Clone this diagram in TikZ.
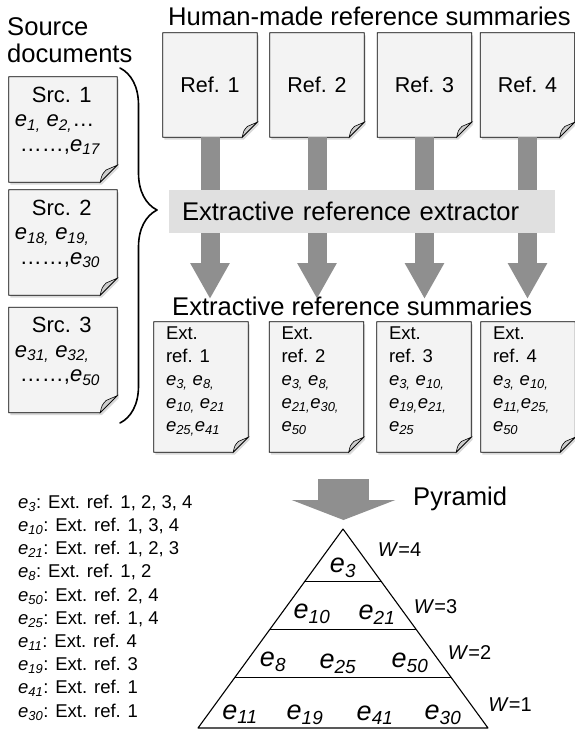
\documentclass[tikz,border=0pt]{standalone}
\usepackage{fontspec}
\setmainfont{Liberation Sans}
\usetikzlibrary{arrows.meta,calc,shadows,backgrounds,decorations.pathreplacing}

\definecolor{pagegray}{RGB}{243,243,243}
\definecolor{foldgray}{RGB}{205,205,205}
\definecolor{arrowgray}{RGB}{143,143,143}
\definecolor{bandgray}{RGB}{224,224,224}

\newcommand\ent[1]{\textit{e}\textsubscript{\textit{#1}}}
% hoja con esquina doblada, sobre un nodo marco
\newcommand\notepage[2]{%
  \path[pagebox] (#1.north west) -- (#1.north east) -- ([yshift=#2pt]#1.south east)
    -- ([xshift=-#2pt]#1.south east) -- (#1.south west) -- cycle;
  \draw[pagefold] ([yshift=#2pt]#1.south east)
    -- ([shift={(-0.65*#2pt,0.72*#2pt)}]#1.south east)
    .. controls ([shift={(-0.9*#2pt,0.45*#2pt)}]#1.south east) .. ([xshift=-#2pt]#1.south east) -- cycle;
}

\tikzset{
  bigfont/.style={font=\fontsize{25.6}{27}\selectfont},
  reffont/.style={font=\fontsize{21.5}{24}\selectfont},
  srcfont/.style={font=\fontsize{22}{24.5}\selectfont},
  extfont/.style={font=\fontsize{18.5}{23}\selectfont},
  listfont/.style={font=\fontsize{18.5}{20}\selectfont},
  pyrfont/.style={font=\fontsize{27}{29}\selectfont},
  wfont/.style={font=\fontsize{20}{22}\selectfont},
  docframe/.style 2 args={minimum width=#1,minimum height=#2,inner sep=0pt},
  pagebox/.style={draw=black,line width=0.8pt,fill=pagegray,
    drop shadow={shadow xshift=1.5pt,shadow yshift=-2.5pt,opacity=0.3}},
  pagefold/.style={fill=foldgray,draw=black,line width=0.6pt},
  bigarrow/.style={draw=arrowgray,line width=19pt,line cap=butt,
    -{Triangle[width=37pt,length=36pt]}},
  pyrarrow/.style={draw=arrowgray,line width=51pt,line cap=butt,
    -{Triangle[width=103pt,length=20pt]}},
  band/.style={fill=bandgray,minimum height=43,text width=360,inner xsep=13,align=left},
  pyrline/.style={line width=1.1pt}
}

\begin{document}
\begin{tikzpicture}[x=1pt,y=-1pt,line cap=round,line join=round]
  \useasboundingbox (0,0) rectangle (575,737);

  % Titulos
  \node[bigfont,anchor=base west,align=left,inner sep=0pt] (srctitle) at (7,62) {Source\\documents};
  \node[bigfont,anchor=base west,inner sep=0pt] (reftitle) at (168,25) {Human-made reference summaries};

  % Documentos fuente
  \foreach \k/\y/\a/\b in {1/129.5/{\ent{1,} \ent{2,}…}/{\ent{17}},
                           2/242.5/{\ent{18,} \ent{19,}}/{\ent{30}},
                           3/360/{\ent{31,} \ent{32,}}/{\ent{50}}} {
    \node[docframe={108}{105}] (src\k) at (63,\y) {};
    \node[srcfont,anchor=north west,align=left,inner sep=0pt] (srctxt\k)
      at ([shift={(6pt,-10pt)}]src\k.north west)
      {\hspace*{17pt}Src. \k\\\a\\\hspace*{5pt}……,\b};
  }
  \draw[decorate,decoration={brace,amplitude=37pt,aspect=0.4},line width=1.6pt]
    (120,68) -- (120,423);

  % Resumenes de referencia
  \foreach \k/\x in {1/210,2/317,3/424.5,4/527.5}
    \node[docframe={94}{104},reffont] (ref\k) at (\x,85) {Ref. \k};

  % Resumenes extractivos
  \node[bigfont,anchor=base west,inner sep=0pt] (exttitle) at (172,315) {Extractive reference summaries};
  \foreach \k/\x/\a/\b/\c in {1/201/{\ent{3,} \ent{8,}}/{\ent{10,} \ent{21}}/{\ent{25,}\ent{41}},
                              2/316.5/{\ent{3,} \ent{8,}}/{\ent{21,}\ent{30,}}/{\ent{50}},
                              3/424/{\ent{3,} \ent{10,}}/{\ent{19,}\ent{21,}}/{\ent{25}},
                              4/528/{\ent{3,} \ent{10,}}/{\ent{11,}\ent{25,}}/{\ent{50}}} {
    \node[docframe={94}{130}] (ext\k) at (\x,387) {};
    \node[extfont,anchor=north west,align=left,inner sep=0pt] (exttxt\k)
      at ([shift={(12pt,-5pt)}]ext\k.north west) {Ext.\\ref. \k\\\a\\\b\\\c};
  }

  \begin{scope}[on background layer]
    \foreach \n/\f in {src1/17,src2/17,src3/17,ref1/15,ref2/15,ref3/15,ref4/15,
                       ext1/15,ext2/15,ext3/15,ext4/15} {
      \notepage{\n}{\f}
    }
  \end{scope}

  % Flechas a traves del extractor
  \coordinate (arrowend) at (0,299);
  \foreach \k in {1,...,4}
    \draw[bigarrow] (ref\k.south) -- (ref\k.south |- arrowend);
  \node[band,bigfont] (extractor) at (362,211.5) {Extractive reference extractor};

  % Lista de pesos
  \foreach \e/\r [count=\k] in {3/{1, 2, 3, 4},10/{1, 3, 4},21/{1, 2, 3},8/{1, 2},50/{2, 4},
                                25/{1, 4},11/4,19/3,41/1,30/1}
    \node[listfont,anchor=base west,inner sep=0pt] (row\k) at (18,{485+23.2*\k}) {\ent{\e}: Ext. ref. \r};

  % Piramide
  \coordinate (pyrin) at (343.5,479);
  \coordinate (pyrtip) at (343.5,520);
  \draw[pyrarrow] (pyrin) -- (pyrtip);
  \node[bigfont,anchor=base west,inner sep=0pt] (pyrlabel) at (413,505) {Pyramid};
  \coordinate (apex) at (343,529);
  \coordinate (baseL) at (198,728);
  \coordinate (baseR) at (488,728);
  \draw[pyrline] (apex) -- (baseL) -- (baseR) -- cycle;
  \foreach \t in {0.266,0.503,0.744}
    \draw[pyrline] ($(apex)!\t!(baseL)$) -- ($(apex)!\t!(baseR)$);
  \foreach \x/\y/\n in {343/568/3,312/614/10,377/615/21,273/662/8,338/664/25,410/663/50,
                        240/714/11,305/715/19,375/715/41,443/715/30}
    \node[pyrfont,inner sep=0pt] (p\n) at (\x,\y) {\ent{\n}};
  \foreach \x/\y/\w in {399.5/550/4,435.5/607/3,469.5/653/2,510/705/1}
    \node[wfont,inner sep=0pt] (w\w) at (\x,\y) {\textit{W}=\w};
\end{tikzpicture}
\end{document}
